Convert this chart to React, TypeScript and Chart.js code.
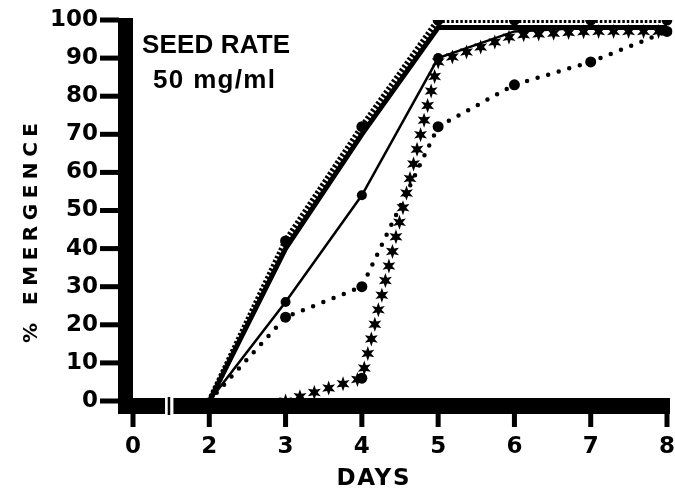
import React, { useEffect, useRef } from 'react';
import { Chart, registerables } from 'chart.js';

Chart.register(...registerables);

// ---- data ----
const dayLabels = ['0', '2', '3', '4', '5', '6', '7', '8'];
const hatchedValues = [null, 0, 42, 72, 100, 100, 100, 100];
const solidValues = [null, 0, 40, 70, 98, 98, 98, 98];
const wavyValues = [null, 0, 26, 54, 90, 97, 98, 98];
const dottedValues = [null, 0, 22, 30, 72, 83, 89, 97];
const starValues = [null, null, 0, 6, 89, 96, 97, 97];
const yMin = 0;
const yMax = 100;
const yStep = 10;
const noteLines = ['SEED RATE', '50 mg/ml'];
const xTitle = 'DAYS';
const yTitle = '% EMERGENCE';

const SANS = '"DejaVu Sans", sans-serif';
const NOTE_FONT = '"Liberation Sans", Arial, sans-serif';

function drawStar(ctx: CanvasRenderingContext2D, x: number, y: number, R: number, r: number, n = 6) {
  ctx.beginPath();
  for (let i = 0; i < 2 * n; i++) {
    const a = -Math.PI / 2 + (i * Math.PI) / n;
    const rad = i % 2 ? r : R;
    const px = x + rad * Math.cos(a);
    const py = y + rad * Math.sin(a);
    if (i === 0) ctx.moveTo(px, py);
    else ctx.lineTo(px, py);
  }
  ctx.closePath();
  ctx.fill();
}

function drawSpaced(ctx: any, text: string, x: number, y: number, width: number, align: 'left' | 'center') {
  ctx.letterSpacing = '0px';
  ctx.textAlign = 'left';
  const w = ctx.measureText(text).width;
  const n = Array.from(text).length;
  const sp = n > 1 ? (width - w) / (n - 1) : 0;
  ctx.letterSpacing = sp.toFixed(2) + 'px';
  const sx = align === 'center' ? x - width / 2 : x;
  ctx.fillText(text, sx, y);
  ctx.letterSpacing = '0px';
}

const decorPlugin = {
  id: 'decor',
  afterDatasetsDraw(chart: any) {
    const { ctx, chartArea, scales } = chart;
    const xs = scales.x;
    const ys = scales.y;
    const { left, right, top, bottom } = chartArea;
    ctx.save();
    ctx.fillStyle = '#000';

    // star markers walked along the star series line
    const meta = chart.getDatasetMeta(4);
    const pts = meta.data
      .filter((_p: any, i: number) => starValues[i] !== null)
      .map((p: any) => ({ x: p.x, y: p.y }));
    const gap = 15;
    let carry = 0;
    for (let i = 0; i < pts.length - 1; i++) {
      const a = pts[i];
      const b = pts[i + 1];
      const dx = b.x - a.x;
      const dy = b.y - a.y;
      const len = Math.hypot(dx, dy);
      let d = carry;
      while (d <= len) {
        drawStar(ctx, a.x + (dx * d) / len, a.y + (dy * d) / len, 7.5, 3.3);
        d += gap;
      }
      carry = d - len;
    }

    // y axis bar and ticks
    const barTop = bottom - 3;
    const barH = 16;
    ctx.fillRect(left - 15, top - 2, 15, barTop + barH - (top - 2));
    for (const t of ys.ticks) {
      const py = ys.getPixelForValue(t.value);
      ctx.fillRect(left - 33, py - 2.5, 19, 5);
    }

    // x axis bar with break
    const p0 = xs.getPixelForValue(0);
    const p1 = xs.getPixelForValue(1);
    const seg1End = p0 + 0.42 * (p1 - p0);
    const markX = p0 + 0.455 * (p1 - p0);
    const mainStart = p0 + 0.53 * (p1 - p0);
    ctx.fillRect(left - 15, barTop, seg1End - (left - 15), barH);
    ctx.fillRect(markX, barTop - 1, 2.5, barH + 2);
    ctx.fillRect(mainStart, barTop, right + 3 - mainStart, barH);
    for (let i = 0; i < dayLabels.length; i++) {
      const px = xs.getPixelForValue(i);
      ctx.fillRect(px - 2.5, barTop + barH - 1, 5, 14);
    }

    // titles
    ctx.textBaseline = 'alphabetic';
    ctx.font = 'bold 23px ' + SANS;
    drawSpaced(ctx, xTitle, 373, 485, 73, 'center');

    ctx.save();
    ctx.translate(30, 233);
    ctx.rotate(-Math.PI / 2);
    ctx.font = 'bold 20px ' + SANS;
    drawSpaced(ctx, yTitle, 0, 7, 220, 'center');
    ctx.restore();

    // annotation
    ctx.font = 'bold 26px ' + NOTE_FONT;
    drawSpaced(ctx, noteLines[0], 142, 53, 148, 'left');
    drawSpaced(ctx, noteLines[1], 153, 88, 122, 'left');

    ctx.restore();
  },
};

export default function App() {
  const canvasRef = useRef<HTMLCanvasElement | null>(null);

  useEffect(() => {
    const canvas = canvasRef.current;
    if (!canvas) return;
    const afterIndex = (n: number, r: number) => (c: any) => (c.dataIndex >= n ? r : 0);
    const noPad = (s: any) => {
      s.paddingTop = 0;
      s.paddingBottom = 0;
      s.paddingLeft = 0;
      s.paddingRight = 0;
    };
    const chart = new Chart(canvas, {
      type: 'line',
      data: {
        labels: dayLabels,
        datasets: [
          {
            label: 'hatched',
            data: hatchedValues,
            borderColor: '#000',
            backgroundColor: '#000',
            borderWidth: 6,
            borderDash: [2.5, 2],
            pointRadius: afterIndex(2, 5.5),
            pointBackgroundColor: '#000',
            pointBorderWidth: 0,
            tension: 0,
          },
          {
            label: 'solid',
            data: solidValues,
            borderColor: '#000',
            backgroundColor: '#000',
            borderWidth: 5,
            pointRadius: 0,
            tension: 0,
          },
          {
            label: 'wavy',
            data: wavyValues,
            borderColor: '#000',
            backgroundColor: '#000',
            borderWidth: 2.5,
            pointRadius: (c: any) => (c.dataIndex >= 2 && c.dataIndex <= 4 ? 5 : 0),
            pointBackgroundColor: '#000',
            pointBorderWidth: 0,
            tension: 0,
          },
          {
            label: 'dotted',
            data: dottedValues,
            borderColor: '#000',
            backgroundColor: '#000',
            borderWidth: 4.5,
            borderDash: [0, 11],
            borderCapStyle: 'round',
            pointRadius: afterIndex(2, 5.5),
            pointBackgroundColor: '#000',
            pointBorderWidth: 0,
            tension: 0,
          },
          {
            label: 'stars',
            data: starValues,
            borderColor: 'rgba(0,0,0,0)',
            backgroundColor: '#000',
            borderWidth: 1,
            pointRadius: (c: any) => (c.dataIndex === 3 ? 5.5 : 0),
            pointBackgroundColor: '#000',
            pointBorderWidth: 0,
            tension: 0,
          },
        ],
      },
      options: {
        responsive: false,
        animation: false,
        devicePixelRatio: 1,
        layout: { padding: { top: 20, right: 8, left: 0, bottom: 0 } },
        plugins: {
          legend: { display: false },
          tooltip: { enabled: false },
          title: { display: false },
        },
        scales: {
          x: {
            type: 'category',
            offset: false,
            grid: { display: false, drawTicks: false },
            border: { display: false },
            ticks: {
              color: '#000',
              font: { family: SANS, size: 23, weight: 'bold' },
              padding: 32,
              maxRotation: 0,
              autoSkip: false,
            },
            afterFit: (s: any) => {
              s.height = 89;
              noPad(s);
            },
          },
          y: {
            type: 'linear',
            min: yMin,
            max: yMax,
            grid: { display: false, drawTicks: false },
            border: { display: false },
            ticks: {
              stepSize: yStep,
              color: '#000',
              font: { family: SANS, size: 23, weight: 'bold' },
              padding: 35,
            },
            afterFit: (s: any) => {
              s.width = 133;
              noPad(s);
            },
          },
        },
      },
      plugins: [decorPlugin],
    } as any);
    return () => chart.destroy();
  }, []);

  return (
    <div style={{ position: 'fixed', left: 0, top: 0, width: 675, height: 490, background: '#fff' }}>
      <canvas ref={canvasRef} width={675} height={490} />
    </div>
  );
}
